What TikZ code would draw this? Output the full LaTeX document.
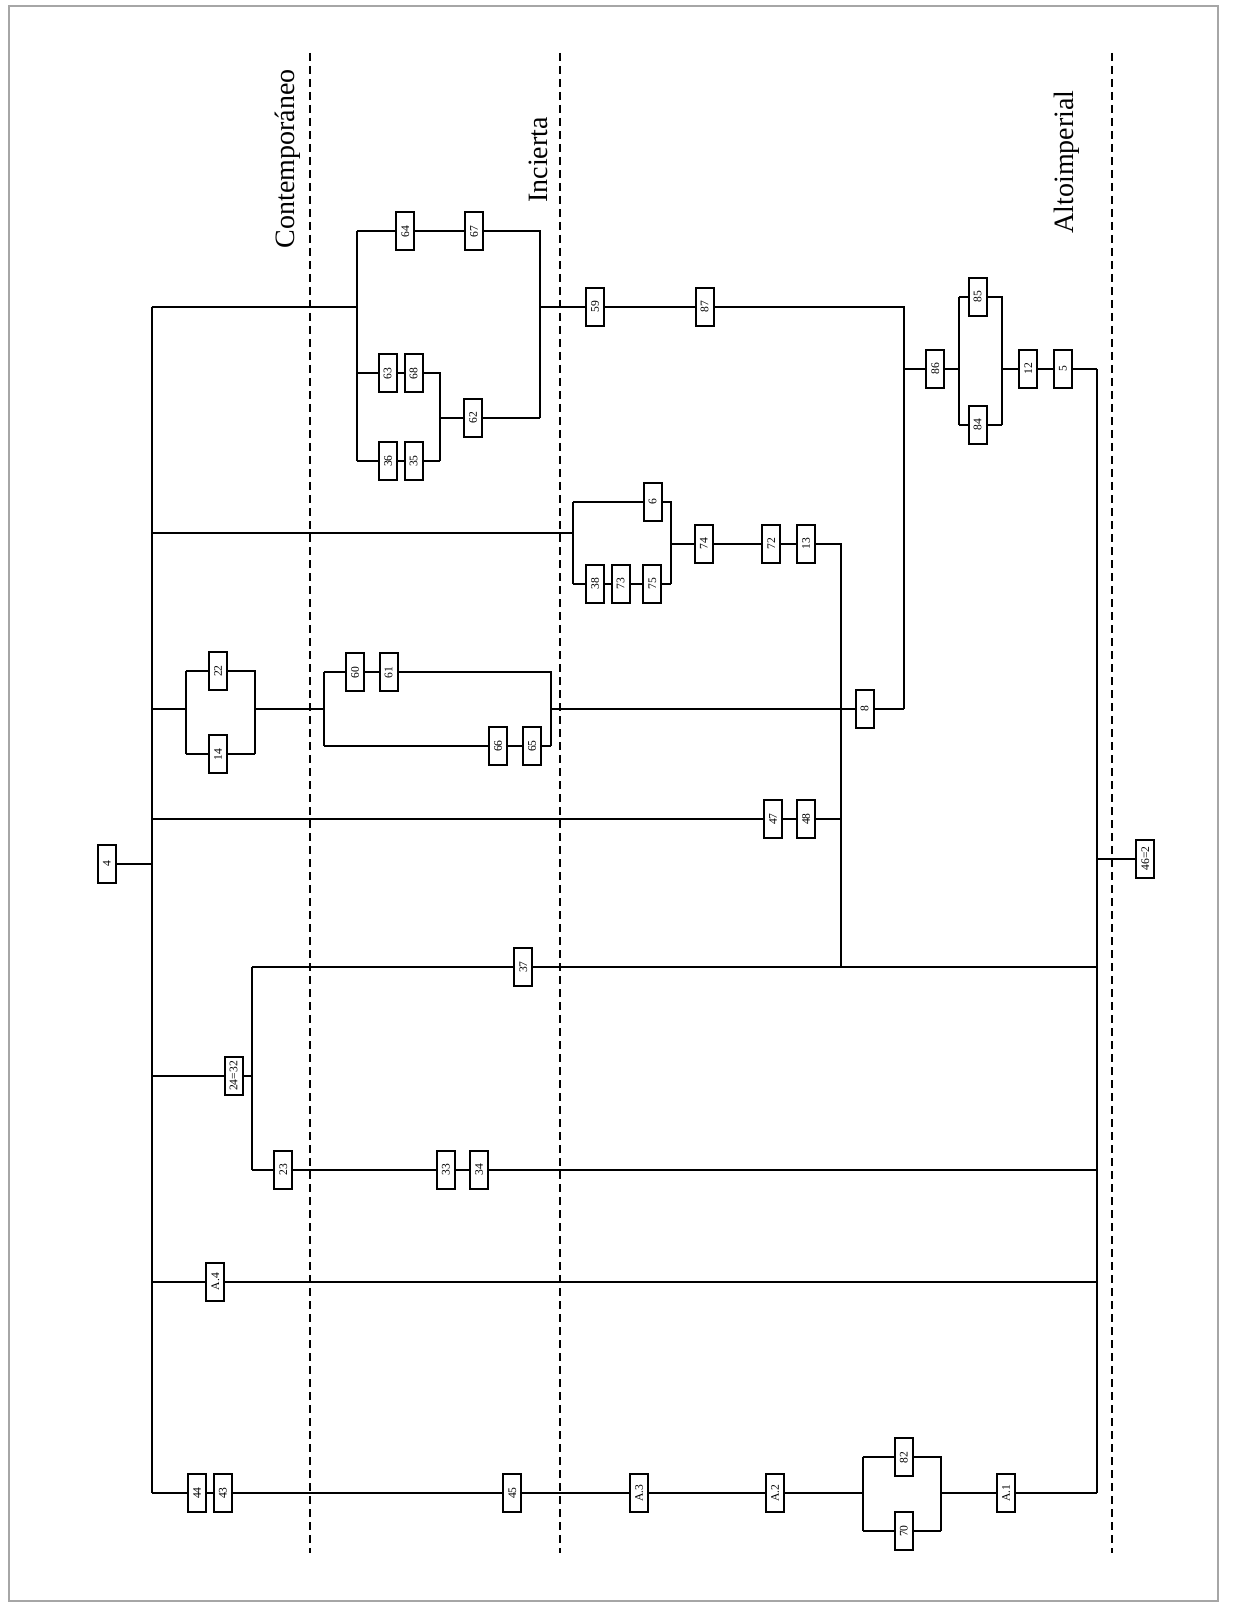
\documentclass[tikz,border=0pt]{standalone}
\usepackage{fontspec}
\setmainfont{Liberation Serif}
\begin{document}
\begin{tikzpicture}[x=0.5pt,y=-0.5pt,
  ubox/.style={draw, line width=1pt, fill=white, rotate=90, minimum width=19pt, minimum height=9pt, inner sep=0pt, font=\fontsize{5.8}{6}\selectfont},
  conn/.style={line width=1pt},
  period/.style={line width=0.7pt, dash pattern=on 4pt off 2.5pt},
  plabel/.style={rotate=90, font=\fontsize{14}{16}\selectfont, inner sep=0pt}]
\useasboundingbox (0,0) rectangle (1248,1604);
\draw[gray!70, line width=1pt] (9,6) rectangle (1218,1601);

% period dividers and labels
\draw[period] (310,53) -- (310,1553);
\draw[period] (560,53) -- (560,1553);
\draw[period] (1112,53) -- (1112,1553);
\node[plabel] (contemp) at (288,159) {Contemporáneo};
\node[plabel] (incierta) at (538.5,160) {Incierta};
\node[plabel] (alto) at (1067,162) {Altoimperial};

% spines
\coordinate (Lt) at (151.5,307);
\coordinate (Lb) at (151.5,1493);
\coordinate (Rt) at (1097,369);
\coordinate (Rb) at (1097,1493);

% group 1
\coordinate (g1l) at (357,307);
\coordinate (g1lt) at (357,231.5);
\coordinate (g1lm) at (357,373.5);
\coordinate (g1lb) at (357,461);
\coordinate (g1rt) at (539.5,231.5);
\coordinate (g1rm) at (539.5,418);
\coordinate (g1r) at (539.5,307);
\coordinate (g1it) at (439.5,373.5);
\coordinate (g1ib) at (439.5,461);
\coordinate (g1im) at (439.5,418);
\node[ubox] (b64) at (405.3,231.5) {64};
\node[ubox] (b67) at (474,231.5) {67};
\node[ubox] (b63) at (387.7,373.5) {63};
\node[ubox] (b68) at (413.5,373.5) {68};
\node[ubox] (b36) at (388,461) {36};
\node[ubox] (b35) at (413.5,461) {35};
\node[ubox] (b62) at (473.2,418) {62};
\node[ubox] (b59) at (595,307) {59};
\node[ubox] (b87) at (704.5,307) {87};
\coordinate (v87) at (904,307);
\coordinate (v86) at (904,369);
\coordinate (v8) at (904,709);
\node[ubox] (b86) at (935.3,369) {86};
\coordinate (g5l) at (959,369);
\coordinate (g5lt) at (959,297);
\coordinate (g5lb) at (959,425);
\coordinate (g5rt) at (1001.7,297);
\coordinate (g5rb) at (1001.7,425);
\coordinate (g5r) at (1001.7,369);
\node[ubox] (b85) at (977.5,297) {85};
\node[ubox] (b84) at (977.5,425) {84};
\node[ubox] (b12) at (1028.3,369) {12};
\node[ubox] (b5) at (1062.8,369) {5};

% group 2
\coordinate (g2e) at (151.5,533);
\coordinate (g2l) at (573,533);
\coordinate (g2lt) at (573,501.7);
\coordinate (g2lb) at (573,583.5);
\coordinate (g2rt) at (671,501.7);
\coordinate (g2rb) at (671,583.5);
\coordinate (g2r) at (671,543.5);
\node[ubox] (b6) at (652.5,501.7) {6};
\node[ubox] (b38) at (595,583.5) {38};
\node[ubox] (b73) at (620.5,583.5) {73};
\node[ubox] (b75) at (652.3,583.5) {75};
\node[ubox] (b74) at (703.8,543.5) {74};
\node[ubox] (b72) at (771.3,543.5) {72};
\node[ubox] (b13) at (806.2,543.5) {13};
\coordinate (v13t) at (841,543.5);
\coordinate (v13b) at (841,967);

% groups 3 and 4
\coordinate (g3e) at (151.5,709);
\coordinate (g3l) at (186.2,709);
\coordinate (g3lt) at (186.2,671);
\coordinate (g3lb) at (186.2,754.3);
\coordinate (g3rt) at (254.7,671);
\coordinate (g3rb) at (254.7,754.3);
\coordinate (g3r) at (254.7,709);
\node[ubox] (b22) at (218,671) {22};
\node[ubox] (b14) at (218,754.3) {14};
\coordinate (g4l) at (324,709);
\coordinate (g4lt) at (324,672.3);
\coordinate (g4lb) at (324,746);
\coordinate (g4rt) at (550.8,672.3);
\coordinate (g4rb) at (550.8,746);
\coordinate (g4r) at (550.8,709);
\node[ubox] (b60) at (355,672.3) {60};
\node[ubox] (b61) at (388.5,672.3) {61};
\node[ubox] (b66) at (498,746) {66};
\node[ubox] (b65) at (532,746) {65};
\node[ubox] (b8) at (864.5,709) {8};

% row 47/48
\coordinate (r47) at (151.5,819);
\node[ubox] (b47) at (773,819) {47};
\node[ubox] (b48) at (806,819) {48};
\coordinate (v48) at (841,819);

% 4
\node[ubox] (b4) at (106.7,864) {4};
\coordinate (r4) at (151.5,864);

% 24=32 branch
\coordinate (r24) at (151.5,1076);
\node[ubox] (b2432) at (233.7,1076) {24=32};
\coordinate (v24) at (252,1076);
\coordinate (v24t) at (252,967);
\coordinate (v24b) at (252,1169.5);
\node[ubox] (b37) at (523.4,967) {37};
\coordinate (R37) at (1097,967);
\node[ubox] (b23) at (283.3,1169.5) {23};
\node[ubox] (b33) at (445.8,1169.5) {33};
\node[ubox] (b34) at (479.2,1169.5) {34};
\coordinate (R23) at (1097,1169.5);

% A.4
\coordinate (rA4) at (151.5,1281.5);
\node[ubox] (bA4) at (215.3,1281.5) {A.4};
\coordinate (RA4) at (1097,1281.5);

% 46=2
\coordinate (R46) at (1097,858.5);
\node[ubox] (b462) at (1145.3,858.5) {46=2};

% bottom row
\node[ubox] (b44) at (197,1493) {44};
\node[ubox] (b43) at (222.8,1493) {43};
\node[ubox] (b45) at (512.3,1493) {45};
\node[ubox] (bA3) at (639.2,1493) {A.3};
\node[ubox] (bA2) at (775.2,1493) {A.2};
\coordinate (g6l) at (862.7,1493);
\coordinate (g6lt) at (862.7,1457.3);
\coordinate (g6lb) at (862.7,1531);
\coordinate (g6rt) at (941,1457.3);
\coordinate (g6rb) at (941,1531);
\coordinate (g6r) at (941,1493);
\node[ubox] (b82) at (903.8,1457.3) {82};
\node[ubox] (b70) at (903.8,1531) {70};
\node[ubox] (bA1) at (1006.2,1493) {A.1};

% connectors
\begin{scope}[conn]
\draw (Lt) -- (Lb);
\draw (Rt) -- (Rb);
% group 1
\draw (Lt) -- (g1l);
\draw (g1lt) -- (g1lb);
\draw (g1lt) -- (b64) -- (b67) -- (g1rt) -- (g1rm);
\draw (g1lm) -- (b63) -- (b68) -- (g1it) -- (g1ib);
\draw (g1lb) -- (b36) -- (b35) -- (g1ib);
\draw (g1im) -- (b62) -- (g1rm);
\draw (g1r) -- (b59) -- (b87) -- (v87) -- (v8);
\draw (v86) -- (b86) -- (g5l);
\draw (g5lt) -- (g5lb);
\draw (g5lt) -- (b85) -- (g5rt) -- (g5rb);
\draw (g5lb) -- (b84) -- (g5rb);
\draw (g5r) -- (b12) -- (b5) -- (Rt);
% group 2
\draw (g2e) -- (g2l);
\draw (g2lt) -- (g2lb);
\draw (g2lt) -- (b6) -- (g2rt) -- (g2rb);
\draw (g2lb) -- (b38) -- (b73) -- (b75) -- (g2rb);
\draw (g2r) -- (b74) -- (b72) -- (b13) -- (v13t) -- (v13b);
% groups 3, 4
\draw (g3e) -- (g3l);
\draw (g3lt) -- (g3lb);
\draw (g3lt) -- (b22) -- (g3rt) -- (g3rb);
\draw (g3lb) -- (b14) -- (g3rb);
\draw (g3r) -- (g4l);
\draw (g4lt) -- (g4lb);
\draw (g4lt) -- (b60) -- (b61) -- (g4rt) -- (g4rb);
\draw (g4lb) -- (b66) -- (b65) -- (g4rb);
\draw (g4r) -- (b8) -- (v8);
% 47/48
\draw (r47) -- (b47) -- (b48) -- (v48);
% 4
\draw (b4) -- (r4);
% 24=32
\draw (r24) -- (b2432) -- (v24);
\draw (v24t) -- (v24b);
\draw (v24t) -- (b37) -- (R37);
\draw (v24b) -- (b23) -- (b33) -- (b34) -- (R23);
% A.4
\draw (rA4) -- (bA4) -- (RA4);
% 46=2
\draw (R46) -- (b462);
% bottom
\draw (Lb) -- (b44) -- (b43) -- (b45) -- (bA3) -- (bA2) -- (g6l);
\draw (g6lt) -- (g6lb);
\draw (g6lt) -- (b82) -- (g6rt) -- (g6rb);
\draw (g6lb) -- (b70) -- (g6rb);
\draw (g6r) -- (bA1) -- (Rb);
\end{scope}
\end{tikzpicture}
\end{document}
